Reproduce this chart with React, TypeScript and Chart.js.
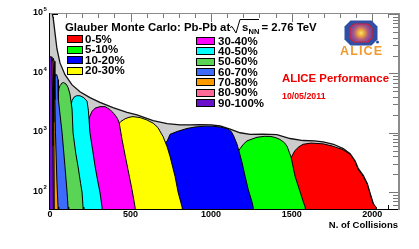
import React, { useEffect, useRef } from "react";
import { Chart, registerables } from "chart.js";
Chart.register(...registerables);

// ---- axis ranges / ticks ----
const xMin = 0;
const xMax = 2160;
const yMin = 52;
const yMax = 1e5;
const xTickLabels = [0, 500, 1000, 1500, 2000];
const yTickExponents = [2, 3, 4, 5];

// ---- total Glauber Ncoll distribution ----
const totalN = [0, 8, 16, 20, 31, 43, 62, 93, 137, 186, 248, 310, 391, 478, 540, 640, 727, 807, 870, 930, 1000, 1056, 1118, 1180, 1242, 1320, 1408, 1490, 1571, 1640, 1695, 1760, 1820, 1863, 1894, 1913, 1944, 1969, 1987, 2006, 2025, 2040];
const totalV = [1.3e5, 1.2e5, 9.5e4, 8.5e4, 4.8e4, 2.6e4, 1.5e4, 9.5e3, 6.4e3, 4.9e3, 3.9e3, 3.25e3, 2.65e3, 2.2e3, 2.0e3, 1.6e3, 1.42e3, 1.36e3, 1.36e3, 1.37e3, 1.36e3, 1.3e3, 1.15e3, 1.0e3, 940, 950, 930, 800, 740, 730, 700, 640, 540, 445, 335, 250, 192, 140, 95, 65, 52, 30];

// ---- centrality classes ----
const classLabels = ["0-5%", "5-10%", "10-20%", "20-30%", "30-40%", "40-50%", "50-60%", "60-70%", "70-80%", "80-90%", "90-100%"];
const classColors = ["#ff0000", "#00ff00", "#0000ff", "#ffff00", "#ff00ff", "#00ffff", "#59d454", "#3d6bff", "#ff9900", "#ff6b96", "#6a0fcc"];

const c0N = [1370, 1440, 1497, 1520, 1545, 1571, 1620, 1695, 1750, 1782, 1813, 1863, 1894, 1913, 1944, 1969, 1987, 2006, 2025, 2032];
const c0V = [30, 160, 383, 500, 580, 640, 670, 650, 600, 560, 525, 435, 325, 240, 185, 136, 93, 63, 56, 30];
const c1N = [1000, 1080, 1150, 1180, 1200, 1223, 1285, 1330, 1366, 1400, 1428, 1455, 1472, 1497, 1521, 1553, 1571, 1584, 1592];
const c1V = [30, 200, 420, 540, 640, 730, 840, 870, 870, 830, 770, 680, 587, 383, 185, 100, 70, 56, 30];
const c2N = [550, 620, 680, 727, 745, 789, 850, 900, 960, 1012, 1060, 1100, 1125, 1140, 1160, 1174, 1192, 1211, 1230, 1254, 1261, 1268];
const c2V = [30, 300, 600, 720, 940, 1050, 1180, 1250, 1290, 1290, 1240, 1170, 1050, 880, 650, 480, 315, 185, 112, 68, 56, 30];
const c3N = [300, 340, 380, 420, 440, 466, 490, 515, 560, 600, 640, 670, 702, 727, 745, 776, 795, 820, 830];
const c3V = [30, 500, 1000, 1350, 1550, 1720, 1820, 1870, 1800, 1650, 1450, 1220, 860, 580, 400, 185, 100, 56, 30];
const c4N = [190, 215, 240, 261, 280, 310, 342, 373, 400, 418, 430, 447, 466, 484, 509, 528, 535];
const c4V = [30, 600, 1700, 2300, 2600, 2750, 2750, 2450, 2050, 1750, 1450, 770, 420, 240, 110, 56, 30];
const c5N = [90, 110, 125, 137, 150, 165, 186, 210, 230, 238, 248, 265, 280, 295, 310, 323, 330];
const c5V = [30, 800, 2500, 3500, 4000, 4200, 4200, 3900, 3400, 2400, 1000, 500, 270, 160, 100, 56, 30];
const c6N = [30, 45, 55, 62, 75, 85, 100, 112, 124, 137, 143, 160, 174, 190, 199, 205, 210];
const c6V = [30, 3000, 5500, 6200, 6900, 7000, 6600, 5800, 4500, 2500, 1000, 450, 270, 140, 100, 56, 30];
const c7N = [18, 24, 32, 42, 50, 52, 75, 93, 106, 112, 116];
const c7V = [30, 7000, 9500, 9500, 7800, 3600, 1000, 270, 100, 56, 30];
const c8N = [10, 14, 20, 26, 30, 31, 34, 43, 50, 54];
const c8V = [30, 15000, 18000, 16000, 8000, 3600, 1000, 146, 56, 30];
const c9N = [6, 10, 18, 22, 24, 27];
const c9V = [30, 16000, 17000, 12000, 1500, 30];
const c10N = [0, 8, 12, 15, 18, 22];
const c10V = [19000, 19000, 16000, 6000, 600, 30];

const classN = [c0N, c1N, c2N, c3N, c4N, c5N, c6N, c7N, c8N, c9N, c10N];
const classV = [c0V, c1V, c2V, c3V, c4V, c5V, c6V, c7V, c8V, c9V, c10V];

const FONT = '"Liberation Sans", Arial, Helvetica, sans-serif';

function pts(ns: number[], vs: number[]) {
  return ns.map((n, i) => ({ x: n, y: vs[i] }));
}

function seg(ctx: CanvasRenderingContext2D, x1: number, y1: number, x2: number, y2: number) {
  ctx.beginPath();
  ctx.moveTo(x1, y1);
  ctx.lineTo(x2, y2);
  ctx.stroke();
}

function octagon(ctx: CanvasRenderingContext2D, cx: number, cy: number, hw: number, hh: number, c: number) {
  ctx.beginPath();
  ctx.moveTo(cx - hw + c, cy - hh);
  ctx.lineTo(cx + hw - c, cy - hh);
  ctx.lineTo(cx + hw, cy - hh + c);
  ctx.lineTo(cx + hw, cy + hh - c);
  ctx.lineTo(cx + hw - c, cy + hh);
  ctx.lineTo(cx - hw + c, cy + hh);
  ctx.lineTo(cx - hw, cy + hh - c);
  ctx.lineTo(cx - hw, cy - hh + c);
  ctx.closePath();
}

const decor = {
  id: "decor",
  beforeDatasetsDraw(chart: any) {
    const { ctx, chartArea: a, scales } = chart;
    const x = scales.x, y = scales.y;
    ctx.save();
    ctx.lineWidth = 1;
    for (let v = 0; v <= xMax; v += 100) {
      const px = Math.round(x.getPixelForValue(v)) + 0.5;
      const major = v % 500 === 0;
      ctx.strokeStyle = "#000";
      seg(ctx, px, a.bottom, px, a.bottom - (major ? 8 : 4));
      ctx.strokeStyle = "#777";
      seg(ctx, px, a.top, px, a.top + (major ? 8 : 4));
    }
    for (let e = 1; e <= 5; e++) {
      for (let m = 1; m <= 9; m++) {
        const v = m * Math.pow(10, e);
        if (v < yMin || v > yMax) continue;
        const py = Math.round(y.getPixelForValue(v)) + 0.5;
        const major = m === 1;
        ctx.strokeStyle = "#000";
        seg(ctx, a.left, py, a.left + (major ? 8 : 4), py);
        ctx.strokeStyle = "#777";
        seg(ctx, a.right, py, a.right - (major ? 9 : 5), py);
      }
    }
    ctx.restore();
  },
  afterDatasetsDraw(chart: any) {
    const { ctx, chartArea: a, scales } = chart;
    const x = scales.x, y = scales.y;
    ctx.save();
    // frame
    ctx.strokeStyle = "#8c8c8c";
    ctx.lineWidth = 1;
    seg(ctx, a.left, a.top - 0.5, a.right, a.top - 0.5);
    ctx.lineWidth = 2;
    seg(ctx, a.right + 1, a.top - 1, a.right + 1, a.bottom + 1);
    ctx.strokeStyle = "#000";
    ctx.lineWidth = 1;
    seg(ctx, a.left - 0.5, a.top - 1, a.left - 0.5, a.bottom + 1);
    seg(ctx, a.left - 1, a.bottom + 0.5, a.right, a.bottom + 0.5);

    ctx.fillStyle = "#000";
    ctx.font = `bold 9px ${FONT}`;
    ctx.textAlign = "center";
    ctx.textBaseline = "middle";
    xTickLabels.forEach((v) => {
      ctx.fillText(String(v), x.getPixelForValue(v), 214.5);
    });
    yTickExponents.forEach((e) => {
      const py = y.getPixelForValue(Math.pow(10, e));
      ctx.font = `bold 9px ${FONT}`;
      ctx.textAlign = "right";
      ctx.textBaseline = "middle";
      ctx.fillText("10", 43, py - 1);
      ctx.font = `bold 6px ${FONT}`;
      ctx.textAlign = "left";
      ctx.fillText(String(e), 43.5, py - 4.5);
    });
    ctx.font = `bold 9.5px ${FONT}`;
    ctx.textAlign = "right";
    ctx.textBaseline = "middle";
    ctx.fillText("N. of Collisions", a.right, 225);

    // title
    ctx.textAlign = "left";
    ctx.textBaseline = "alphabetic";
    ctx.font = `bold 11.4px ${FONT}`;
    ctx.fillText("Glauber Monte Carlo: Pb-Pb at", 65, 31);
    ctx.lineWidth = 1;
    ctx.strokeStyle = "#000";
    ctx.beginPath();
    ctx.moveTo(230, 27.5);
    ctx.lineTo(232, 26.5);
    ctx.lineTo(236, 33);
    ctx.lineTo(240, 19.5);
    ctx.lineTo(259, 19.5);
    ctx.stroke();
    ctx.fillText("s", 242, 31);
    ctx.font = `bold 7.5px ${FONT}`;
    ctx.fillText("NN", 248.5, 34);
    ctx.font = `bold 11.4px ${FONT}`;
    ctx.fillText("= 2.76 TeV", 261.5, 31);

    // legend
    ctx.font = `bold 11.5px ${FONT}`;
    ctx.textBaseline = "middle";
    const leftRows = [39, 49.5, 60, 70.5];
    const rightRows = [41, 51.3, 61.7, 72, 82.3, 92.7, 103];
    classLabels.forEach((lab, i) => {
      let bx: number, bw: number, tx: number, cy: number;
      if (i < 4) { bx = 67.5; bw = 15; tx = 85; cy = leftRows[i]; }
      else { bx = 196.5; bw = 18; tx = 218; cy = rightRows[i - 4]; }
      ctx.fillStyle = classColors[i];
      ctx.fillRect(bx, Math.round(cy) - 3.5, bw, 7);
      ctx.strokeStyle = "#000";
      ctx.lineWidth = 1;
      ctx.strokeRect(bx, Math.round(cy) - 3.5, bw, 7);
      ctx.fillStyle = "#000";
      ctx.fillText(lab, tx, cy + 0.5);
    });

    // ALICE performance
    ctx.fillStyle = "#ee0000";
    ctx.font = `bold 11.4px ${FONT}`;
    ctx.fillText("ALICE Performance", 282, 79);
    ctx.font = `bold 8.8px ${FONT}`;
    ctx.fillText("10/05/2011", 282, 97);

    // ALICE logo
    const cx = 361, cy = 33;
    octagon(ctx, cx, cy, 16.5, 12.5, 6);
    ctx.fillStyle = "#2f4fa6";
    ctx.fill();
    octagon(ctx, cx, cy, 11, 9, 4);
    const g = ctx.createRadialGradient(cx, cy, 0, cx, cy, 10);
    g.addColorStop(0, "#f4e860");
    g.addColorStop(0.35, "#e8a040");
    g.addColorStop(0.7, "#b05a80");
    g.addColorStop(1, "#7a4aa0");
    ctx.fillStyle = g;
    ctx.fill();
    ctx.strokeStyle = "#d8202a";
    ctx.lineWidth = 1.2;
    ctx.stroke();
    ctx.fillStyle = "#2f4fa6";
    ctx.beginPath();
    ctx.arc(377.5, 42, 1.5, 0, Math.PI * 2);
    ctx.fill();
    ctx.fillStyle = "#f2992e";
    ctx.font = `bold 12.5px ${FONT}`;
    ctx.textAlign = "left";
    ctx.textBaseline = "middle";
    const letters = "ALICE";
    const totalW = 42;
    const ws = letters.split("").map((ch) => ctx.measureText(ch).width);
    const sum = ws.reduce((p, q) => p + q, 0);
    const gap = Math.max(0, (totalW - sum) / (letters.length - 1));
    let lx = 340;
    letters.split("").forEach((ch, i) => {
      ctx.fillText(ch, lx, 52);
      lx += ws[i] + gap;
    });
    ctx.restore();
  },
};

export default function App() {
  const ref = useRef<HTMLCanvasElement | null>(null);
  useEffect(() => {
    document.body.style.margin = "0";
    const canvas = ref.current;
    if (!canvas) return;
    const classSets = classLabels.map((lab, i) => ({
      label: lab,
      data: pts(classN[i], classV[i]),
      backgroundColor: classColors[i],
      borderColor: "#000",
      borderWidth: 1,
      fill: "start",
      pointRadius: 0,
      tension: 0,
    }));
    // peripheral classes on top: dataset index 0 is drawn last
    const datasets: any[] = classSets.slice().reverse();
    datasets.push({
      label: "total",
      data: pts(totalN, totalV),
      backgroundColor: "#cccccc",
      borderColor: "#111",
      borderWidth: 1.3,
      fill: "start",
      pointRadius: 0,
      tension: 0,
    });
    const chart = new Chart(canvas, {
      type: "line",
      data: { datasets },
      options: {
        animation: false,
        responsive: false,
        maintainAspectRatio: false,
        devicePixelRatio: 1,
        layout: { padding: { left: 50, right: 21, top: 14, bottom: 40 } },
        scales: {
          x: { type: "linear", min: xMin, max: xMax, display: false },
          y: { type: "logarithmic", min: yMin, max: yMax, display: false },
        },
        plugins: {
          legend: { display: false },
          tooltip: { enabled: false },
          title: { display: false },
        },
        events: [],
      },
      plugins: [decor],
    } as any);
    return () => chart.destroy();
  }, []);
  return <canvas ref={ref} width={419} height={249} style={{ display: "block" }} />;
}
